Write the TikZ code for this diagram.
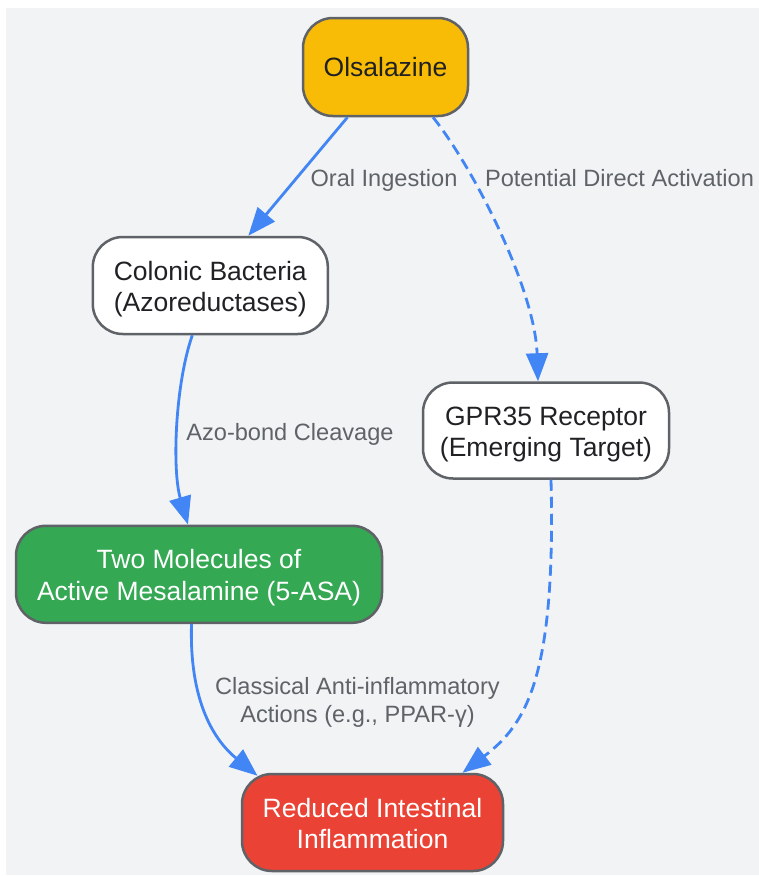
\documentclass[tikz,border=0pt]{standalone}
\usepackage{fontspec}
\setmainfont{Liberation Sans}
\usetikzlibrary{arrows.meta}

\definecolor{bggray}{HTML}{F1F3F4}
\definecolor{edgegray}{HTML}{5F6368}
\definecolor{textdark}{HTML}{202124}
\definecolor{flowblue}{HTML}{4285F4}
\definecolor{olsayellow}{HTML}{F9BC06}
\definecolor{mesagreen}{HTML}{34A853}
\definecolor{inflred}{HTML}{EA4335}

\newcommand{\twolines}[2]{\raisebox{0pt}[19pt][30pt]{\begin{tabular}[t]{@{}c@{}}#1\\#2\end{tabular}}}

\begin{document}
\begin{tikzpicture}[x = 1pt, y = -1pt,
        box/.style = {draw = edgegray, line width = 2.5pt, rounded corners = 30pt,
                text = textdark, inner sep = 0pt, font = \fontsize{26.5}{31.5}\selectfont},
        lbl/.style = {text = edgegray, align = center, font = \fontsize{23.6}{28}\selectfont},
        flow/.style = {draw = flowblue, line width = 2.8pt, -{Triangle[length = 28pt, width = 22pt]}},
        maybe/.style = {flow, dash pattern = on 11pt off 6pt}]
        \useasboundingbox (0,0) rectangle (759,876);
        \fill [bggray] (6,8) rectangle (759,875);
        
        \node [box, fill = olsayellow, minimum width = 165pt, minimum height = 98pt] (olsa) at (385.5,67) {Olsalazine};
        \node [box, fill = white, minimum width = 235pt, minimum height = 97pt] (bact) at (210.3,285.5) {\twolines{Colonic Bacteria}{(Azoreductases)}};
        \node [box, fill = white, minimum width = 246pt, minimum height = 96pt] (gpr) at (546,430.5) {\twolines{GPR35 Receptor}{(Emerging Target)}};
        \node [box, fill = mesagreen, text = white, minimum width = 366pt, minimum height = 97pt] (mesa) at (199,574.3) {\twolines{Two Molecules of}{Active Mesalamine (5-ASA)}};
        \node [box, fill = inflred, text = white, minimum width = 261pt, minimum height = 97pt] (infl) at (372.5,822.5) {\twolines{Reduced Intestinal}{Inflammation}};
        
        \draw [flow] ([xshift = -38pt]olsa.south) -- ([xshift = 38pt]bact.north);
        \draw [maybe] ([xshift = 47.5pt]olsa.south) .. controls (475,170) and (535,290) .. ([xshift = -8pt]gpr.north);
        \draw [flow] ([xshift = -18pt]bact.south) .. controls (175,385) and (172,470) .. ([xshift = -11pt]mesa.north);
        \draw [flow] ([xshift = -7.5pt]mesa.south) .. controls (189,710) and (220,745) .. ([xshift = -115pt, yshift = -3pt]infl.north);
        \draw [maybe] ([xshift = 5pt]gpr.south) .. controls (556,680) and (525,725) .. ([xshift = 90pt]infl.north);
        
        \node [lbl] (oral) at (384,180) {Oral Ingestion};
        \node [lbl] (direct) at (619.5,178) {Potential Direct Activation};
        \node [lbl] (azo) at (290,434) {Azo-bond Cleavage};
        \node [lbl] (classic) at (357.5,702.5) {Classical Anti-inflammatory\\Actions (e.g., PPAR-γ)};
    \end{tikzpicture}
\end{document}
